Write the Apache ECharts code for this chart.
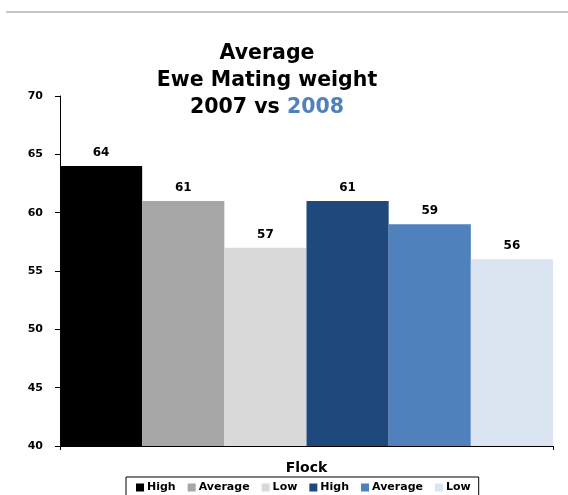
<!DOCTYPE html>
<html>
<head>
<meta charset="utf-8">
<script src="https://cdn.jsdelivr.net/npm/echarts@6/dist/echarts.min.js"></script>
<style>
  html, body { margin: 0; padding: 0; background: #fff; }
  #chart { width: 568px; height: 495px; }
</style>
</head>
<body>
<div id="chart"></div>
<script>
// Ewe mating weight by flock group, 2007 vs 2008
const categories = ['Flock'];
const seriesNames = ['High 2007', 'Average 2007', 'Low 2007', 'High 2008', 'Average 2008', 'Low 2008'];
const seriesValues = [64, 61, 57, 61, 59, 56];
const seriesColors = ['#000000', '#A6A6A6', '#D9D9D9', '#1F497D', '#4F81BD', '#DBE5F1'];
const yTicks = [40, 45, 50, 55, 60, 65, 70];

const font = 'DejaVu Sans, Verdana, sans-serif';
const chart = echarts.init(document.getElementById('chart'), null, { renderer: 'canvas' });

const series = seriesNames.map((name, i) => ({
  name: name,
  type: 'bar',
  data: [seriesValues[i]],
  barGap: '0%',
  barCategoryGap: '0%',
  itemStyle: { color: seriesColors[i] },
  label: {
    show: true,
    position: 'top',
    distance: 7,
    color: '#000',
    fontFamily: font,
    fontSize: 12,
    fontWeight: 'bold'
  }
}));

chart.setOption({
  backgroundColor: '#fff',
  animation: false,
  title: {
    text: '{b|Average}\n{b|Ewe Mating weight}\n{b|2007 vs }{c|2008}',
    left: 262,
    top: 35,
    textAlign: 'center',
    textStyle: {
      rich: {
        b: { fontFamily: font, fontSize: 20.5, fontWeight: 'bold', color: '#000', lineHeight: 27 },
        c: { fontFamily: font, fontSize: 20.5, fontWeight: 'bold', color: '#4F81BD', lineHeight: 27 }
      }
    }
  },
  grid: { left: 60, right: 15, top: 96, bottom: 49, containLabel: false },
  xAxis: {
    type: 'category',
    data: categories,
    axisLine: { lineStyle: { color: '#000', width: 1 } },
    axisTick: { show: true, length: 4, lineStyle: { color: '#000' } },
    axisLabel: { color: '#000', fontFamily: font, fontSize: 14, fontWeight: 'bold', margin: 15 }
  },
  yAxis: {
    type: 'value',
    min: yTicks[0],
    max: yTicks[yTicks.length - 1],
    interval: 5,
    splitLine: { show: false },
    axisLine: { show: true, lineStyle: { color: '#000', width: 1 } },
    axisTick: { show: true, length: 5, lineStyle: { color: '#000' } },
    axisLabel: { color: '#000', fontFamily: font, fontSize: 11, fontWeight: 'bold', margin: 17 }
  },
  legend: {
    data: seriesNames,
    left: 126,
    top: 477,
    orient: 'horizontal',
    itemWidth: 8,
    itemHeight: 8,
    itemGap: 12,
    padding: [5, 8, 6, 10],
    borderColor: '#000',
    borderWidth: 1,
    icon: 'rect',
    formatter: name => name.split(' ')[0],
    textStyle: { color: '#000', fontFamily: font, fontSize: 11, fontWeight: 'bold', padding: [0, 0, 0, -2] }
  },
  graphic: [{
    type: 'line',
    shape: { x1: 6, y1: 12, x2: 568, y2: 12 },
    style: { stroke: '#8c8c8c', lineWidth: 1 }
  }],
  series: series
});
</script>
</body>
</html>
